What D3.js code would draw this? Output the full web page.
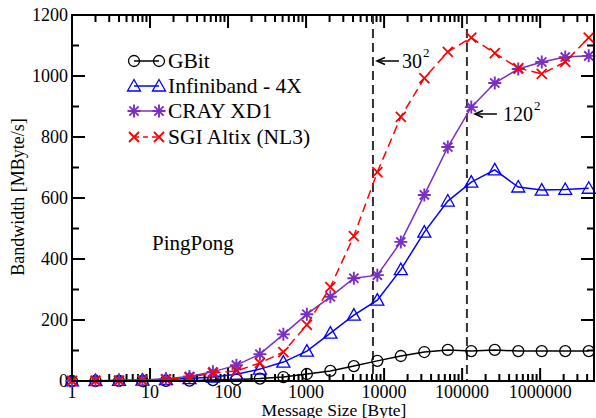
<!DOCTYPE html>
<html>
<head>
<meta charset="utf-8">
<script src="https://cdn.jsdelivr.net/npm/d3@7"></script>
<style>
  body { margin: 0; background: #fff; }
  text { font-family: "Liberation Serif", "Times New Roman", "DejaVu Serif", serif; }
</style>
</head>
<body>
<svg id="chart" width="596" height="418"></svg>
<script>
// Message sizes (bytes), powers of two
var sizes = [1, 2, 4, 8, 16, 32, 64, 128, 256, 512, 1024, 2048, 4096, 8192, 16384,
    32768, 65536, 131072, 262144, 524288, 1048576, 2097152, 4194304];

// Bandwidth in MByte/s
var gbit = [0, 0, 0, 0, 0.5, 1, 3, 5, 8, 13, 23, 33, 49, 66, 82, 95, 102, 98, 102, 98, 98, 98, 98];
var infiniband = [0.5, 1, 2, 3, 5, 8, 13, 22, 39, 62, 98, 157, 216, 265, 365, 488, 590, 652, 692, 636, 626, 628, 632];
var cray = [0.5, 1, 2, 3, 7, 15, 30, 52, 88, 153, 219, 276, 337, 347, 456, 610, 767, 898, 977, 1023, 1046, 1062, 1066];
var sgi = [0.5, 1, 1, 2, 5, 12, 26, 33, 59, 95, 184, 308, 475, 685, 866, 993, 1079, 1126, 1075, 1026, 1007, 1046, 1126];

var seriesNames = ["GBit", "Infiniband - 4X", "CRAY XD1", "SGI Altix (NL3)"];
var seriesColors = ["#000000", "#0000ff", "#7a2fc4", "#ff0000"];
var seriesMarkers = ["circle", "triangle", "star", "cross"];
var seriesDash = [null, null, null, "9,5"];
var allSeries = [gbit, infiniband, cray, sgi];

var yTicks = [0, 200, 400, 600, 800, 1000, 1200];
var xTicks = [1, 10, 100, 1000, 10000, 100000, 1000000];

// Reference lines: 30^2 and 120^2 matrices of doubles
var refLines = [{ x: 30 * 30 * 8, base: "30" }, { x: 120 * 120 * 8, base: "120" }];

var svg = d3.select("#chart");
var margin = { top: 15, right: 2, bottom: 37, left: 72 };
var width = 596, height = 418;

var xScale = d3.scaleLog()
    .domain([1, 4.9e6])
    .range([margin.left, width - margin.right]);

var yScale = d3.scaleLinear()
    .domain([0, 1200])
    .range([height - margin.bottom, margin.top]);

var x0 = margin.left, x1 = width - margin.right, y0 = height - margin.bottom, y1 = margin.top;

// Minor ticks
var minorX = [];
for (let d = 1; d <= 1e6; d *= 10) {
    for (let k = 2; k <= 9; k++) {
        if (d * k < 4.9e6) minorX.push(d * k);
    }
}
var minorY = d3.range(100, 1200, 200);

var ticks = svg.append("g").attr("stroke", "#000").attr("stroke-width", 2);
// y ticks left and right
yTicks.forEach(function (v) {
    ticks.append("line").attr("x1", x0).attr("x2", x0 + 13).attr("y1", yScale(v)).attr("y2", yScale(v));
    ticks.append("line").attr("x1", x1).attr("x2", x1 - 13).attr("y1", yScale(v)).attr("y2", yScale(v));
});
minorY.forEach(function (v) {
    ticks.append("line").attr("x1", x0).attr("x2", x0 + 7).attr("y1", yScale(v)).attr("y2", yScale(v));
    ticks.append("line").attr("x1", x1).attr("x2", x1 - 7).attr("y1", yScale(v)).attr("y2", yScale(v));
});
// x ticks bottom and top
xTicks.forEach(function (v) {
    ticks.append("line").attr("x1", xScale(v)).attr("x2", xScale(v)).attr("y1", y0).attr("y2", y0 - 13);
    ticks.append("line").attr("x1", xScale(v)).attr("x2", xScale(v)).attr("y1", y1).attr("y2", y1 + 13);
});
minorX.forEach(function (v) {
    ticks.append("line").attr("x1", xScale(v)).attr("x2", xScale(v)).attr("y1", y0).attr("y2", y0 - 7);
    ticks.append("line").attr("x1", xScale(v)).attr("x2", xScale(v)).attr("y1", y1).attr("y2", y1 + 7);
});

// Tick labels
svg.append("g").selectAll("text").data(yTicks).join("text")
    .attr("x", x0 - 4)
    .attr("y", function (d) { return yScale(d) + 6; })
    .attr("text-anchor", "end")
    .style("font-size", "18px")
    .text(function (d) { return d; });

svg.append("g").selectAll("text").data(xTicks).join("text")
    .attr("x", function (d) { return xScale(d); })
    .attr("y", y0 + 17)
    .attr("text-anchor", "middle")
    .style("font-size", "18px")
    .text(function (d) { return d; });

// Axis titles
svg.append("text")
    .attr("x", 334)
    .attr("y", 416)
    .attr("text-anchor", "middle")
    .style("font-size", "17.5px")
    .text("Message Size [Byte]");

svg.append("text")
    .attr("transform", "translate(24,197) rotate(-90)")
    .attr("text-anchor", "middle")
    .style("font-size", "18px")
    .text("Bandwidth [MByte/s]");

// Dashed reference lines
refLines.forEach(function (r) {
    svg.append("line")
        .attr("x1", xScale(r.x)).attr("x2", xScale(r.x))
        .attr("y1", y1).attr("y2", y0)
        .attr("stroke", "#333")
        .attr("stroke-width", 2)
        .attr("stroke-dasharray", "9,5");
});

// Marker drawing
function drawMarker(g, type, color, cx, cy) {
    if (type == "circle") {
        g.append("circle").attr("cx", cx).attr("cy", cy).attr("r", 5.5)
            .attr("fill", "none").attr("stroke", color).attr("stroke-width", 1.3);
    } else if (type == "triangle") {
        g.append("path")
            .attr("d", `M${cx},${cy - 6.5}L${cx + 6.5},${cy + 5}L${cx - 6.5},${cy + 5}Z`)
            .attr("fill", "none").attr("stroke", color).attr("stroke-width", 1.3);
    } else if (type == "star") {
        var r = 6.5;
        var p = "";
        for (let a = 0; a < 4; a++) {
            var ang = a * Math.PI / 4;
            var dx = r * Math.cos(ang), dy = r * Math.sin(ang);
            p += `M${cx - dx},${cy - dy}L${cx + dx},${cy + dy}`;
        }
        g.append("path").attr("d", p).attr("stroke", color).attr("stroke-width", 1.9);
    } else if (type == "cross") {
        var s = 5;
        g.append("path")
            .attr("d", `M${cx - s},${cy - s}L${cx + s},${cy + s}M${cx - s},${cy + s}L${cx + s},${cy - s}`)
            .attr("stroke", color).attr("stroke-width", 1.8);
    }
}

var line = d3.line()
    .x(function (d) { return xScale(d[0]); })
    .y(function (d) { return yScale(d[1]); });

// Draw series
allSeries.forEach(function (vals, i) {
    var pts = sizes.map(function (s, j) { return [s, vals[j]]; });
    var g = svg.append("g");
    g.append("path")
        .datum(pts)
        .attr("d", line)
        .attr("fill", "none")
        .attr("stroke", seriesColors[i])
        .attr("stroke-width", 1.5)
        .attr("stroke-dasharray", seriesDash[i]);
    pts.forEach(function (p) {
        drawMarker(g, seriesMarkers[i], seriesColors[i], xScale(p[0]), yScale(p[1]));
    });
});

// Frame
svg.append("rect")
    .attr("x", x0).attr("y", y1)
    .attr("width", x1 - x0).attr("height", y0 - y1)
    .attr("fill", "none").attr("stroke", "#000").attr("stroke-width", 2);

// Legend
var legendY = [61, 86, 111, 137];
seriesNames.forEach(function (name, i) {
    var g = svg.append("g");
    g.append("line")
        .attr("x1", 134).attr("x2", 159)
        .attr("y1", legendY[i]).attr("y2", legendY[i])
        .attr("stroke", seriesColors[i]).attr("stroke-width", 1.5)
        .attr("stroke-dasharray", seriesDash[i] ? "5,4" : null);
    drawMarker(g, seriesMarkers[i], seriesColors[i], 134, legendY[i]);
    drawMarker(g, seriesMarkers[i], seriesColors[i], 159, legendY[i]);
    g.append("text")
        .attr("x", 168).attr("y", legendY[i] + 7)
        .style("font-size", "21.5px")
        .text(name);
});

// PingPong label
svg.append("text")
    .attr("x", 152).attr("y", 250)
    .style("font-size", "21px")
    .text("PingPong");

// Annotations with arrows
var annY = [61, 114];
var annGap = [4, 8];
refLines.forEach(function (r, i) {
    var ax = xScale(r.x) + annGap[i];
    var ay = annY[i];
    svg.append("line")
        .attr("x1", ax + 22).attr("x2", ax + 1)
        .attr("y1", ay).attr("y2", ay)
        .attr("stroke", "#000").attr("stroke-width", 1.5);
    svg.append("path")
        .attr("d", `M${ax + 8},${ay - 3.5}L${ax},${ay}L${ax + 8},${ay + 3.5}`)
        .attr("fill", "none").attr("stroke", "#000").attr("stroke-width", 1.5);
    var t = svg.append("text")
        .attr("x", ax + 25 + (i == 1 ? 3 : 0)).attr("y", ay + 7)
        .style("font-size", "20px")
        .text(r.base);
    t.append("tspan")
        .attr("dy", -11).attr("dx", 1)
        .style("font-size", "13px")
        .text("2");
});
</script>
</body>
</html>
